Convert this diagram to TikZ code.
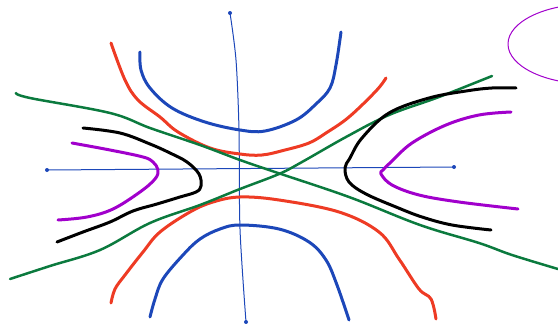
\documentclass[tikz,border=0pt]{standalone}
\definecolor{penblue}{HTML}{1C47B9}
\definecolor{penred}{HTML}{EE3B24}
\definecolor{pengreen}{HTML}{0B7A3E}
\definecolor{penpurple}{HTML}{A100CC}

\begin{document}
\begin{tikzpicture}[x=1pt,y=-1pt,line cap=round,line join=round,
    pen/.style={line width=3pt},
    axisline/.style={penblue,line width=1pt}]
    \clip (0,0) rectangle (558,324);

    % axes
    \draw[axisline] (47,170) -- (454,167);
    \draw[axisline] plot[smooth] coordinates {(230,13) (236,60) (239,130) (240,229) (246,322)};
    \foreach \p in {(47,170),(454,167),(230,13),(246,322)} {
        \fill[penblue] \p circle[radius=2];
    }

    % upper and lower branches
    \draw[pen,penblue] plot[smooth,tension=0.6] coordinates {(140,52) (141,70) (150,88) (172,108) (205,122) (240,130) (265,131) (296,120) (316,104) (330,88) (336,65) (341,32)};
    \draw[pen,penred] plot[smooth,tension=0.6] coordinates {(111,43) (125,80) (138,100) (160,117) (178,132) (210,148) (240,154) (262,155) (285,150) (309,143) (326,133) (349,117) (376,91) (386,78)};
    \draw[pen,penred] plot[smooth,tension=0.6] coordinates {(111,303) (115,289) (125,275) (143,252) (160,232) (190,212) (213,202) (240,197) (279,200) (339,212) (379,232) (399,259) (419,289) (431,299) (436,319)};
    \draw[pen,penblue] plot[smooth,tension=0.6] coordinates {(150,317) (155,299) (163,279) (183,255) (200,239) (220,229) (240,225) (279,229) (309,242) (326,260) (337,285) (349,320)};

    % asymptotes
    \draw[pen,pengreen,line width=2.5pt] plot[smooth,tension=0.6] coordinates {(16,93) (30,98) (110,113) (150,128) (200,145) (240,160) (275,172) (349,197) (420,225) (479,243) (512,255) (558,269)};
    \draw[pen,pengreen,line width=2.5pt] plot[smooth,tension=0.6] coordinates {(10,279) (50,266) (100,250) (150,223) (200,205) (240,189) (279,174) (302,162) (346,137) (389,115) (439,97) (492,76)};

    % left and right branches
    \draw[pen,black] plot[smooth,tension=0.6] coordinates {(83,128) (120,133) (150,144) (170,153) (187,162) (199,174) (201,186) (196,192) (180,197) (157,204) (133,211) (110,222) (83,232) (57,242)};
    \draw[pen,black] plot[smooth,tension=0.6] coordinates {(516,88) (492,88) (466,91) (429,98) (389,113) (362,138) (350,158) (345,168) (349,182) (366,194) (396,207) (422,217) (452,225) (491,230)};
    \draw[pen,penpurple] plot[smooth,tension=0.6] coordinates {(72,143) (110,150) (143,157) (153,162) (158,170) (155,179) (140,192) (113,209) (87,217) (58,220)};
    \draw[pen,penpurple] plot[smooth,tension=0.6] coordinates {(511,112) (479,115) (446,125) (412,143) (391,162) (383,170) (381,174) (392,185) (419,195) (459,202) (518,209)};

    % ellipse at the corner
    \draw[penpurple,line width=1pt] (590,44) ellipse[x radius=82,y radius=40];
\end{tikzpicture}
\end{document}
